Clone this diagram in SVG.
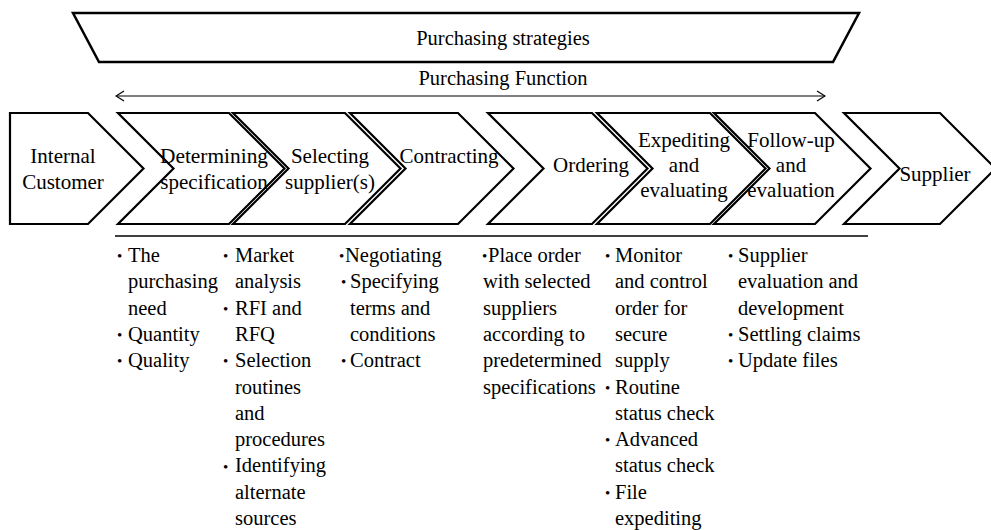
<svg xmlns="http://www.w3.org/2000/svg" width="991" height="530" viewBox="0 0 991 530">
<defs>
<style>
text{font-family:"Liberation Serif","Times New Roman",serif;fill:#000}
.t{font-size:20.5px}
.c{font-size:21px;text-anchor:middle}
.chev{fill:#fff;stroke:#000;stroke-width:2.2;stroke-linejoin:miter;stroke-miterlimit:10}
.b{font-size:20.5px}
.d{font-size:15px}
</style>
<marker id="ah" viewBox="0 0 10 12" refX="9" refY="6" markerWidth="10" markerHeight="12" markerUnits="userSpaceOnUse" orient="auto-start-reverse">
<path d="M1,1 L9,6 L1,11" fill="none" stroke="#000" stroke-width="1.2"/>
</marker>
</defs>
<rect width="991" height="530" fill="#fff"/>

<g id="strategies">
<polygon points="73,13 859,13 833,62 99,62" fill="#fff" stroke="#000" stroke-width="2.5" stroke-linejoin="miter"/>
<text class="t" x="503" y="45" text-anchor="middle">Purchasing strategies</text>
</g>

<g id="connectors">
<line x1="116" y1="96" x2="825" y2="96" stroke="#000" stroke-width="1.2" marker-start="url(#ah)" marker-end="url(#ah)"/>
<line x1="115" y1="236" x2="868" y2="236" stroke="#000" stroke-width="1.5"/>
</g>

<g id="function-label">
<text class="t" x="503" y="85" text-anchor="middle">Purchasing Function</text>
</g>

<g id="internal-customer">
<path class="chev" d="M10,113 L88,113 L143.5,168.5 L88,224 L10,224 Z"/>
<text class="c" x="63" y="163">Internal</text>
<text class="c" x="63" y="189">Customer</text>
</g>

<g id="determining">
<path class="chev" d="M118,113 L229,113 L284.5,168.5 L229,224 L118,224 L173.5,168.5 Z"/>
<text class="c" x="214" y="163" textLength="108" lengthAdjust="spacingAndGlyphs">Determining</text>
<text class="c" x="214" y="189">specification</text>
</g>

<g id="selecting">
<path class="chev" d="M233,113 L345,113 L400.5,168.5 L345,224 L233,224 L288.5,168.5 Z"/>
<text class="c" x="330" y="163">Selecting</text>
<text class="c" x="330" y="189">supplier(s)</text>
</g>

<g id="contracting">
<path class="chev" d="M350,113 L458,113 L513.5,168.5 L458,224 L350,224 L405.5,168.5 Z"/>
<text class="c" x="449" y="163">Contracting</text>
</g>

<g id="ordering">
<path class="chev" d="M488,113 L592,113 L647.5,168.5 L592,224 L488,224 L543.5,168.5 Z"/>
<text class="c" x="591" y="172">Ordering</text>
</g>

<g id="expediting">
<path class="chev" d="M597,113 L710,113 L765.5,168.5 L710,224 L597,224 L652.5,168.5 Z"/>
<text class="c" x="684" y="147">Expediting</text>
<text class="c" x="684" y="172">and</text>
<text class="c" x="684" y="197">evaluating</text>
</g>

<g id="follow-up">
<path class="chev" d="M714,113 L815,113 L870.5,168.5 L815,224 L714,224 L769.5,168.5 Z"/>
<text class="c" x="791" y="147">Follow-up</text>
<text class="c" x="791" y="172">and</text>
<text class="c" x="791" y="197">evaluation</text>
</g>

<g id="supplier">
<path class="chev" d="M844,113 L940,113 L995.5,168.5 L940,224 L844,224 L899.5,168.5 Z"/>
<text class="c" x="935" y="181">Supplier</text>
</g>

<g id="col-specification">
<text class="b"><tspan class="d" x="117" y="261">•</tspan><tspan x="128" y="262">The</tspan><tspan x="128" y="288.3">purchasing</tspan><tspan x="128" y="314.6">need</tspan><tspan class="d" x="117" y="340">•</tspan><tspan x="128" y="340.9">Quantity</tspan><tspan class="d" x="117" y="366.3">•</tspan><tspan x="128" y="367.2">Quality</tspan></text>
</g>

<g id="col-selecting">
<text class="b"><tspan class="d" x="223" y="261">•</tspan><tspan x="235" y="262">Market</tspan><tspan x="235" y="288.3">analysis</tspan><tspan class="d" x="223" y="313.7">•</tspan><tspan x="235" y="314.6">RFI and</tspan><tspan x="235" y="340.9">RFQ</tspan><tspan class="d" x="223" y="366.3">•</tspan><tspan x="235" y="367.2">Selection</tspan><tspan x="235" y="393.5">routines</tspan><tspan x="235" y="419.8">and</tspan><tspan x="235" y="446.1">procedures</tspan><tspan class="d" x="223" y="471.5">•</tspan><tspan x="235" y="472.4">Identifying</tspan><tspan x="235" y="498.7">alternate</tspan><tspan x="235" y="525">sources</tspan></text>
</g>

<g id="col-contracting">
<text class="b"><tspan class="d" x="339" y="261">•</tspan><tspan x="345" y="262">Negotiating</tspan><tspan class="d" x="341" y="287.4">•</tspan><tspan x="350" y="288.3">Specifying</tspan><tspan x="350" y="314.6">terms and</tspan><tspan x="350" y="340.9">conditions</tspan><tspan class="d" x="341" y="366.3">•</tspan><tspan x="350" y="367.2">Contract</tspan></text>
</g>

<g id="col-ordering">
<text class="b"><tspan class="d" x="482" y="261">•</tspan><tspan x="488" y="262">Place order</tspan><tspan x="483" y="288.3">with selected</tspan><tspan x="483" y="314.6">suppliers</tspan><tspan x="483" y="340.9">according to</tspan><tspan x="483" y="367.2">predetermined</tspan><tspan x="483" y="393.5">specifications</tspan></text>
</g>

<g id="col-expediting">
<text class="b"><tspan class="d" x="605" y="261">•</tspan><tspan x="615" y="262">Monitor</tspan><tspan x="615" y="288.3">and control</tspan><tspan x="615" y="314.6">order for</tspan><tspan x="615" y="340.9">secure</tspan><tspan x="615" y="367.2">supply</tspan><tspan class="d" x="605" y="392.6">•</tspan><tspan x="615" y="393.5">Routine</tspan><tspan x="615" y="419.8">status check</tspan><tspan class="d" x="605" y="445.2">•</tspan><tspan x="615" y="446.1">Advanced</tspan><tspan x="615" y="472.4">status check</tspan><tspan class="d" x="605" y="497.8">•</tspan><tspan x="615" y="498.7">File</tspan><tspan x="615" y="525">expediting</tspan></text>
</g>

<g id="col-follow-up">
<text class="b"><tspan class="d" x="728" y="261">•</tspan><tspan x="738" y="262">Supplier</tspan><tspan x="738" y="288.3">evaluation and</tspan><tspan x="738" y="314.6">development</tspan><tspan class="d" x="728" y="340">•</tspan><tspan x="738" y="340.9">Settling claims</tspan><tspan class="d" x="728" y="366.3">•</tspan><tspan x="738" y="367.2">Update files</tspan></text>
</g>
</svg>
